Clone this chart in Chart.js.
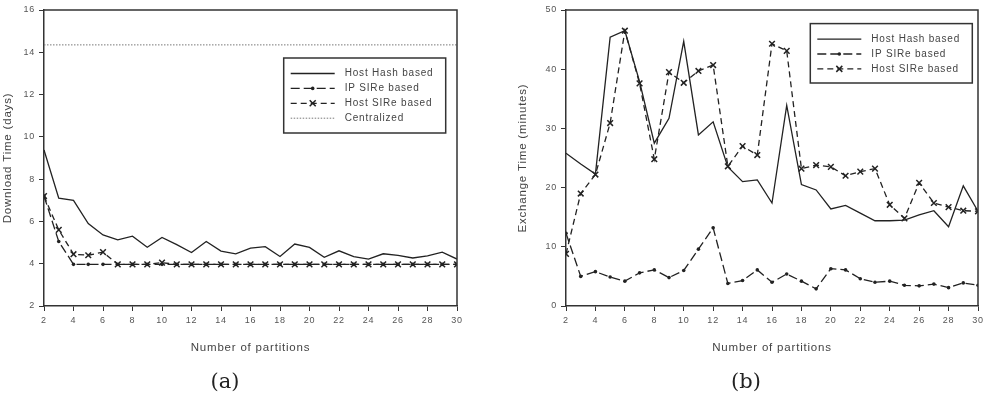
<!DOCTYPE html>
<html>
<head>
<meta charset="utf-8">
<script src="https://cdn.jsdelivr.net/npm/chart.js@4/dist/chart.umd.min.js"></script>
<style>
  body { margin: 0; background: #fff; width: 984px; height: 394px; position: relative; overflow: hidden; }
  canvas { position: absolute; top: 0; }
  #chartA { left: 0; }
  #chartB { left: 492px; }
  .cap { position: absolute; top: 366px; width: 60px; text-align: center; line-height: 30px;
         font-family: "DejaVu Serif", "Liberation Serif", serif; font-size: 21px; color: #222; }
</style>
</head>
<body>
<canvas id="chartA" width="480" height="394"></canvas>
<canvas id="chartB" width="504" height="394"></canvas>
<div class="cap" style="left:195px">(a)</div>
<div class="cap" style="left:716px">(b)</div>
<script>
// x values: number of partitions
const partitions = [2, 3, 4, 5, 6, 7, 8, 9, 10, 11, 12, 13, 14, 15, 16, 17, 18, 19, 20, 21, 22, 23, 24, 25, 26, 27, 28, 29, 30];

// (a) download time in days
const hashDownload = [9.38, 7.1, 7.0, 5.9, 5.36, 5.13, 5.3, 4.78, 5.24, 4.9, 4.53, 5.05, 4.6, 4.47, 4.74, 4.81, 4.34, 4.93, 4.77, 4.3, 4.61, 4.34, 4.22, 4.47, 4.39, 4.27, 4.37, 4.55, 4.22];
const ipSireDownload = [7.2, 5.05, 3.97, 3.97, 3.97, 3.97, 3.97, 3.97, 3.97, 3.97, 3.97, 3.97, 3.97, 3.97, 3.97, 3.97, 3.97, 3.97, 3.97, 3.97, 3.97, 3.97, 3.97, 3.97, 3.97, 3.97, 3.97, 3.97, 3.97];
const hostSireDownload = [7.2, 5.6, 4.45, 4.4, 4.55, 3.97, 3.97, 3.97, 4.05, 3.97, 3.97, 3.97, 3.97, 3.97, 3.97, 3.97, 3.97, 3.97, 3.97, 3.97, 3.97, 3.97, 3.97, 3.97, 3.97, 3.97, 3.97, 3.97, 3.97];
const centralizedDownload = 14.35;

// (b) exchange time in minutes
const hashExchange = [25.8, 24.0, 22.3, 45.4, 46.5, 37.9, 27.5, 31.7, 44.7, 28.9, 31.1, 23.5, 21.0, 21.3, 17.4, 33.9, 20.5, 19.6, 16.4, 17.0, 15.7, 14.4, 14.4, 14.5, 15.4, 16.1, 13.4, 20.3, 16.0];
const ipSireExchange = [12.3, 5.0, 5.8, 4.9, 4.2, 5.6, 6.1, 4.8, 6.0, 9.6, 13.2, 3.8, 4.3, 6.1, 4.0, 5.4, 4.2, 2.9, 6.3, 6.1, 4.6, 4.0, 4.2, 3.5, 3.4, 3.7, 3.1, 3.9, 3.5];
const hostSireExchange = [8.8, 19.0, 22.2, 30.9, 46.5, 37.6, 24.8, 39.5, 37.7, 39.7, 40.7, 23.6, 27.0, 25.5, 44.3, 43.1, 23.2, 23.8, 23.5, 22.0, 22.7, 23.2, 17.1, 14.8, 20.8, 17.4, 16.7, 16.1, 16.0];

const xTicksA = [2, 30, 2];   // min, max, step
const yTicksA = [2, 16, 2];
const xTicksB = [2, 30, 2];
const yTicksB = [0, 50, 10];

const FONT = '"Liberation Sans", Arial, sans-serif';
const INK = "#333";

function points(vals) {
  return vals.map((v, i) => ({ x: partitions[i], y: v }));
}

// solid / dash-dot / dash-x line styles
function hashSet(vals) {
  return { label: "Host Hash based", data: points(vals), borderColor: "#222", borderWidth: 1.3,
           pointRadius: 0, mark: null };
}
function ipSet(vals) {
  return { label: "IP SIRe based", data: points(vals), borderColor: "#222", borderWidth: 1.3,
           borderDash: [9, 4], pointStyle: "circle", pointRadius: 1.8, pointBackgroundColor: "#222",
           pointBorderColor: "#222", pointBorderWidth: 0, mark: "dot" };
}
function hostSet(vals) {
  return { label: "Host SIRe based", data: points(vals), borderColor: "#222", borderWidth: 1.3,
           borderDash: [6, 4], pointStyle: "crossRot", pointRadius: 4, pointBorderColor: "#222",
           pointBorderWidth: 1.5, mark: "x" };
}

// frame round the plot, letter spacing for all text
const frame = {
  id: "frame",
  beforeDraw(chart) { chart.ctx.letterSpacing = "0.8px"; },
  afterDraw(chart) {
    const { ctx, chartArea: a } = chart;
    ctx.save();
    ctx.strokeStyle = INK;
    ctx.lineWidth = 1.5;
    ctx.beginPath();
    ctx.moveTo(a.left, a.top);
    ctx.lineTo(a.right, a.top);
    ctx.lineTo(a.right, a.bottom);
    ctx.stroke();
    ctx.restore();
  },
};

// boxed legend inside the plot area
const boxLegend = {
  id: "boxLegend",
  afterDraw(chart, args, o) {
    const { ctx, chartArea: a } = chart;
    const x0 = a.right - o.right - o.width;
    const y0 = a.top + o.top;
    ctx.save();
    ctx.letterSpacing = "0.8px";
    ctx.fillStyle = "#fff";
    ctx.fillRect(x0, y0, o.width, o.height);
    ctx.strokeStyle = INK;
    ctx.lineWidth = 1.5;
    ctx.strokeRect(x0, y0, o.width, o.height);
    ctx.font = "10px " + FONT;
    ctx.textBaseline = "middle";
    chart.data.datasets.forEach((ds, i) => {
      const y = y0 + 15.5 + i * 14.9;
      const xa = x0 + 7, xb = x0 + 51, xm = (xa + xb) / 2;
      ctx.strokeStyle = ds.borderColor;
      ctx.lineWidth = ds.borderWidth;
      ctx.setLineDash(ds.borderDash || []);
      ctx.beginPath();
      ctx.moveTo(xa, y);
      ctx.lineTo(xb, y);
      ctx.stroke();
      ctx.setLineDash([]);
      if (ds.mark === "dot") {
        ctx.fillStyle = "#222";
        ctx.beginPath();
        ctx.arc(xm, y, 1.8, 0, Math.PI * 2);
        ctx.fill();
      } else if (ds.mark === "x") {
        ctx.lineWidth = 1.5;
        ctx.beginPath();
        ctx.moveTo(xm - 3, y - 3); ctx.lineTo(xm + 3, y + 3);
        ctx.moveTo(xm - 3, y + 3); ctx.lineTo(xm + 3, y - 3);
        ctx.stroke();
      }
      ctx.fillStyle = "#444";
      ctx.fillText(ds.label, x0 + 61, y);
    });
    ctx.restore();
  },
};

function makeScales(xt, yt, yTitle, yWidth) {
  const grid = { drawOnChartArea: false, drawTicks: true, tickLength: 5, color: INK, lineWidth: 1 };
  const tickFont = { family: FONT, size: 9 };
  const titleFont = { family: FONT, size: 11.5 };
  return {
    x: {
      type: "linear", min: xt[0], max: xt[1],
      ticks: { stepSize: xt[2], autoSkip: false, maxRotation: 0, color: "#555", font: tickFont, padding: 4 },
      grid: grid,
      border: { color: INK, width: 1.5 },
      title: { display: true, text: "Number of partitions", color: "#444", font: titleFont, padding: { top: 0, bottom: 0 } },
      afterFit(s) { s.height = 49; },
    },
    y: {
      min: yt[0], max: yt[1],
      ticks: { stepSize: yt[2], color: "#555", font: tickFont, padding: 4 },
      grid: grid,
      border: { color: INK, width: 1.5 },
      title: { display: true, text: yTitle, color: "#444", font: titleFont, padding: { top: 1, bottom: 0 } },
      afterFit(s) { s.width = yWidth; },
    },
  };
}

const configA = {
  type: "line",
  data: {
    datasets: [
      hashSet(hashDownload),
      ipSet(ipSireDownload),
      hostSet(hostSireDownload),
      { label: "Centralized", data: [{ x: partitions[0], y: centralizedDownload }, { x: partitions[partitions.length - 1], y: centralizedDownload }],
        borderColor: "#777", borderWidth: 1, borderDash: [1.5, 1.5], pointRadius: 0, mark: null },
    ],
  },
  options: {
    responsive: false,
    animation: false,
    layout: { padding: { left: 0, right: 23, top: 10, bottom: 39 } },
    scales: makeScales(xTicksA, yTicksA, "Download Time (days)", 44),
    plugins: {
      legend: { display: false },
      tooltip: { enabled: false },
      boxLegend: { right: 11.3, top: 48, width: 162, height: 75 },
    },
  },
  plugins: [frame, boxLegend],
};

const configB = {
  type: "line",
  data: {
    datasets: [
      hashSet(hashExchange),
      ipSet(ipSireExchange),
      hostSet(hostSireExchange),
    ],
  },
  options: {
    responsive: false,
    animation: false,
    layout: { padding: { left: 23, right: 18, top: 10, bottom: 39 } },
    scales: makeScales(xTicksB, yTicksB, "Exchange Time (minutes)", 51),
    plugins: {
      legend: { display: false },
      tooltip: { enabled: false },
      boxLegend: { right: 5.7, top: 13.6, width: 162, height: 59.4 },
    },
  },
  plugins: [frame, boxLegend],
};

const chartA = new Chart(document.getElementById("chartA"), configA);
const chartB = new Chart(document.getElementById("chartB"), configB);
</script>
</body>
</html>
